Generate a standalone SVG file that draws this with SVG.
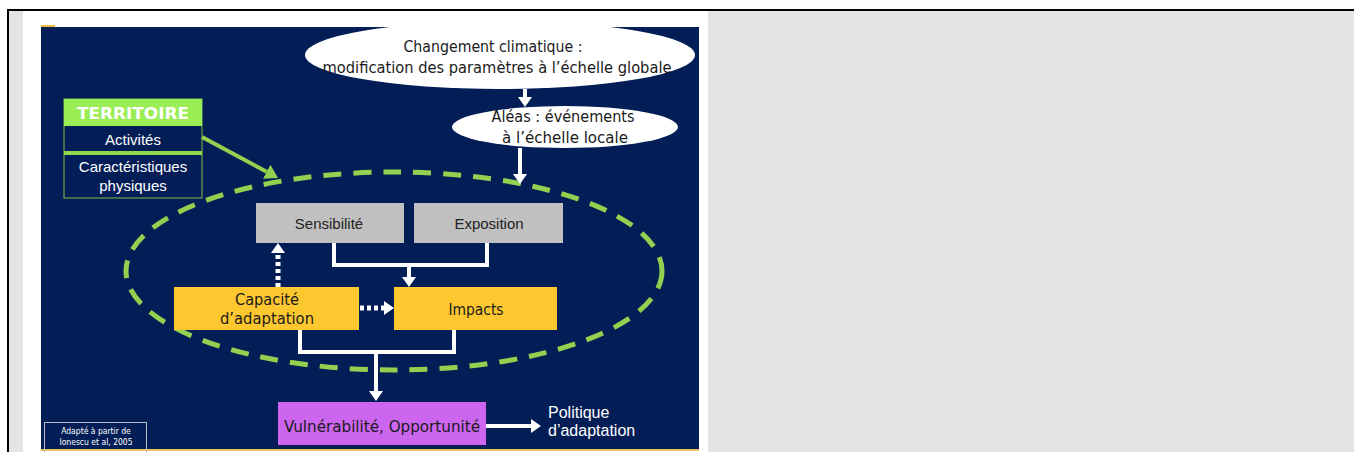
<svg xmlns="http://www.w3.org/2000/svg" width="1354" height="452" viewBox="0 0 1354 452">
<style>
.t{font-family:"DejaVu Sans Condensed","DejaVu Sans",sans-serif;font-stretch:condensed;fill:#1a1a1a;text-anchor:middle}
.a{font-family:"Liberation Sans",Arial,sans-serif;text-anchor:middle}
.s{font-family:"Liberation Sans",Arial,sans-serif;text-anchor:start;fill:#fff}
.conn{fill:none;stroke:#fff;stroke-width:4}
.dot{fill:none;stroke:#fff;stroke-width:5;stroke-dasharray:4 3}
</style>
<defs>
<marker id="ah" markerUnits="userSpaceOnUse" viewBox="0 0 10 14" markerWidth="10" markerHeight="14" refX="0" refY="7" orient="auto"><path d="M0,0 L10,7 L0,14 z" fill="#fff"/></marker>
<marker id="ahg" markerUnits="userSpaceOnUse" viewBox="0 0 13 16" markerWidth="13" markerHeight="16" refX="0" refY="8" orient="auto"><path d="M0,0 L13,8 L0,16 z" fill="#92d050"/></marker>
</defs>
<rect width="1354" height="452" fill="#fff"/>
<rect x="9" y="11" width="14" height="441" fill="#e4e4e4"/>
<rect x="708" y="11" width="646" height="441" fill="#e4e4e4"/>
<rect x="7" y="9" width="1347" height="2" fill="#000"/>
<rect x="7" y="9" width="2" height="443" fill="#000"/>
<g id="slide">
<rect x="41" y="27" width="658" height="424" fill="#031d56"/>
<rect x="41" y="25" width="14" height="2" fill="#f0c040"/>
<rect x="41" y="449" width="658" height="2" fill="#e8c060"/>
</g>
<g id="scope">
<ellipse cx="394" cy="271" rx="268" ry="99" fill="none" stroke="#92d050" stroke-width="5" stroke-dasharray="18 12"/>
</g>
<g id="changement">
<ellipse cx="500" cy="55" rx="195" ry="34" fill="#fff"/>
<rect x="300" y="11" width="400" height="16" fill="#fff"/>
<text class="t" x="493" y="52" font-size="16" textLength="179" lengthAdjust="spacingAndGlyphs">Changement climatique :</text>
<text class="t" x="497" y="73" font-size="16" textLength="349" lengthAdjust="spacingAndGlyphs">modification des paramètres à l’échelle globale</text>
</g>
<g id="aleas">
<ellipse cx="565" cy="127" rx="113" ry="21" fill="#fff"/>
<text class="t" x="563" y="122" font-size="16" textLength="143" lengthAdjust="spacingAndGlyphs">Aléas : événements</text>
<text class="t" x="565" y="143" font-size="16" textLength="126" lengthAdjust="spacingAndGlyphs">à l’échelle locale</text>
</g>
<g id="territoire">
<rect x="64" y="99" width="138" height="99" fill="#031d56" stroke="#7fbf4a" stroke-width="1"/>
<rect x="64" y="99" width="138" height="27" fill="#99ee55"/>
<rect x="64" y="151" width="138" height="4" fill="#8ed84e"/>
<text x="133" y="119" font-family="'DejaVu Sans',Verdana,sans-serif" font-weight="bold" font-size="16" fill="#fff" text-anchor="middle" textLength="112" lengthAdjust="spacingAndGlyphs">TERRITOIRE</text>
<text class="a" x="133" y="145" font-size="15" fill="#fff">Activités</text>
<text class="a" x="133" y="172" font-size="15" fill="#fff">Caractéristiques</text>
<text class="a" x="133" y="191" font-size="15" fill="#fff">physiques</text>
</g>
<g id="sensibilite">
<rect x="256" y="203" width="148" height="40" fill="#c0c0c0"/>
<text class="a" x="329" y="229" font-size="15" fill="#222">Sensibilité</text>
</g>
<g id="exposition">
<rect x="414" y="203" width="149" height="40" fill="#c0c0c0"/>
<text class="a" x="489" y="229" font-size="15" fill="#222">Exposition</text>
</g>
<g id="capacite">
<rect x="174" y="287" width="185" height="43" fill="#fdc82f"/>
<text class="t" x="267" y="305" font-size="16" textLength="64" lengthAdjust="spacingAndGlyphs">Capacité</text>
<text class="t" x="267" y="324" font-size="16" textLength="94" lengthAdjust="spacingAndGlyphs">d’adaptation</text>
</g>
<g id="impacts">
<rect x="394" y="287" width="163" height="43" fill="#fdc82f"/>
<text class="t" x="476" y="315" font-size="16" textLength="55" lengthAdjust="spacingAndGlyphs">Impacts</text>
</g>
<g id="vulnerabilite">
<rect x="278" y="402" width="208" height="43" fill="#cc66ee"/>
<text class="t" x="382" y="432" font-size="16" textLength="196" lengthAdjust="spacingAndGlyphs">Vulnérabilité, Opportunité</text>
</g>
<g id="politique">
<text class="s" x="548" y="418" font-size="16">Politique</text>
<text class="s" x="548" y="436" font-size="16">d’adaptation</text>
</g>
<g id="source">
<rect x="44.5" y="422.5" width="102" height="30" fill="none" stroke="#b8bccc" stroke-width="1"/>
<text x="96" y="434" font-family="'DejaVu Sans Condensed','DejaVu Sans',sans-serif" font-stretch="condensed" font-size="8.5" fill="#fff" text-anchor="middle">Adapté à partir de</text>
<text x="96" y="445" font-family="'DejaVu Sans Condensed','DejaVu Sans',sans-serif" font-stretch="condensed" font-size="8.5" fill="#fff" text-anchor="middle">Ionescu et al, 2005</text>
</g>
<g id="connectors">
<path class="conn" d="M525,89 V97" marker-end="url(#ah)"/>
<path class="conn" d="M520,148 V174" marker-end="url(#ah)"/>
<path d="M202,137 L266.6,171.8" fill="none" stroke="#92d050" stroke-width="4" marker-end="url(#ahg)"/>
<path class="conn" d="M334,243 V265 H487 V243"/>
<path class="conn" d="M409,265 V277" marker-end="url(#ah)"/>
<path class="conn" d="M300,330 V352 H454 V330"/>
<path class="conn" d="M376,352 V391" marker-end="url(#ah)"/>
<path class="dot" d="M278,287 V253" marker-end="url(#ah)"/>
<path class="dot" d="M360,308 H384" marker-end="url(#ah)"/>
<path class="conn" d="M486,426 H531" marker-end="url(#ah)"/>
</g>
</svg>
